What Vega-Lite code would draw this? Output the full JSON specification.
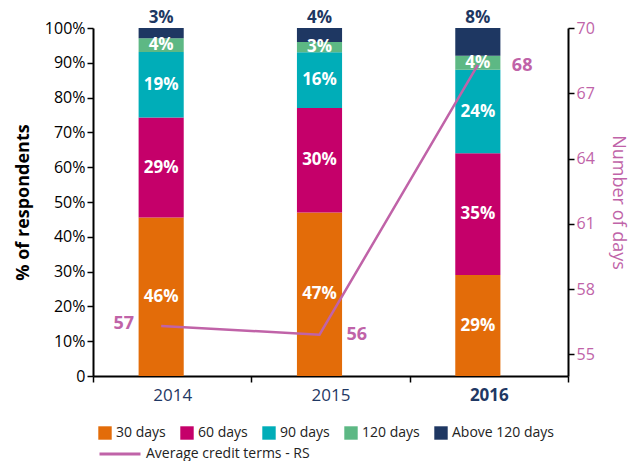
{
  "$schema": "https://vega.github.io/schema/vega-lite/v6.json",
  "width": 475,
  "height": 348,
  "autosize": {"type": "none"},
  "padding": {"left": 93, "top": 28, "right": 69, "bottom": 85},
  "background": "white",
  "config": {
    "font": "Open Sans",
    "view": {"stroke": null},
    "axis": {"grid": false, "domainColor": "black", "domainWidth": 2, "tickColor": "black", "tickWidth": 1.5},
    "legend": {"layout": {"bottom": {"anchor": "start", "direction": "vertical", "margin": 2}}}
  },
  "datasets": {
    "bars": [
      {"year": "2014", "cat": "30 days", "k": 1, "pct": 46, "label": "46%"},
      {"year": "2014", "cat": "60 days", "k": 2, "pct": 29, "label": "29%"},
      {"year": "2014", "cat": "90 days", "k": 3, "pct": 19, "label": "19%"},
      {"year": "2014", "cat": "120 days", "k": 4, "pct": 4, "label": "4%"},
      {"year": "2014", "cat": "Above 120 days", "k": 5, "pct": 3, "label": "3%"},
      {"year": "2015", "cat": "30 days", "k": 1, "pct": 47, "label": "47%"},
      {"year": "2015", "cat": "60 days", "k": 2, "pct": 30, "label": "30%"},
      {"year": "2015", "cat": "90 days", "k": 3, "pct": 16, "label": "16%"},
      {"year": "2015", "cat": "120 days", "k": 4, "pct": 3, "label": "3%"},
      {"year": "2015", "cat": "Above 120 days", "k": 5, "pct": 4, "label": "4%"},
      {"year": "2016", "cat": "30 days", "k": 1, "pct": 29, "label": "29%"},
      {"year": "2016", "cat": "60 days", "k": 2, "pct": 35, "label": "35%"},
      {"year": "2016", "cat": "90 days", "k": 3, "pct": 24, "label": "24%"},
      {"year": "2016", "cat": "120 days", "k": 4, "pct": 4, "label": "4%"},
      {"year": "2016", "cat": "Above 120 days", "k": 5, "pct": 8, "label": "8%"}
    ],
    "line": [
      {"year": "2014", "days": 56.3, "label": "57", "series": "Average credit terms - RS"},
      {"year": "2015", "days": 55.9, "label": "56", "series": "Average credit terms - RS"},
      {"year": "2016", "days": 68.3, "label": "68", "series": "Average credit terms - RS"}
    ]
  },
  "encoding": {
    "x": {
      "field": "year", "type": "nominal",
      "scale": {"paddingInner": 0, "paddingOuter": 0},
      "axis": {
        "title": null, "labelAngle": 0, "labelFontSize": 17, "labelColor": "#1F3864",
        "labelFontWeight": {"expr": "datum.value === '2016' ? 'bold' : 'normal'"},
        "tickBand": "extent", "tickSize": 6, "labelPadding": 5
      }
    }
  },
  "layer": [
    {
      "layer": [
        {
          "data": {"name": "bars"},
          "mark": {"type": "bar", "width": {"band": 0.285}, "xOffset": -11},
          "encoding": {
            "y": {
              "field": "pct", "type": "quantitative", "stack": "normalize",
              "scale": {"domain": [0, 1]},
              "axis": {
                "title": "% of respondents", "titleFontSize": 18, "titleFontWeight": "bold", "titleColor": "black", "titlePadding": 12,
                "values": [0, 0.1, 0.2, 0.3, 0.4, 0.5, 0.6, 0.7, 0.8, 0.9, 1],
                "labelOverlap": false,
                "labelExpr": "datum.value === 0 ? '0' : format(datum.value, '.0%')",
                "labelFontSize": 16, "labelColor": "black", "tickSize": 6
              }
            },
            "order": {"field": "k", "type": "quantitative", "sort": "ascending"},
            "color": {
              "field": "cat", "type": "nominal",
              "scale": {
                "domain": ["30 days", "60 days", "90 days", "120 days", "Above 120 days"],
                "range": ["#E36C09", "#C5006A", "#00ADB8", "#5DB884", "#1E3762"]
              },
              "legend": {
                "title": null, "orient": "bottom", "direction": "horizontal", "symbolType": "square",
                "symbolSize": 180, "symbolStrokeWidth": 0, "labelFontSize": 14, "labelColor": "#222",
                "columnPadding": 9, "symbolOpacity": 1, "padding": 0, "offset": 23, "symbolOffset": 5
              }
            }
          }
        },
        {
          "data": {"name": "bars"},
          "mark": {"type": "text", "xOffset": -11, "fontSize": 17, "fontWeight": "bold", "fill": "white", "baseline": "middle"},
          "encoding": {
            "y": {"field": "pct", "type": "quantitative", "stack": "normalize", "bandPosition": 0.5,
              "axis": {
                "title": "% of respondents", "titleFontSize": 18, "titleFontWeight": "bold", "titleColor": "black", "titlePadding": 12,
                "values": [0, 0.1, 0.2, 0.3, 0.4, 0.5, 0.6, 0.7, 0.8, 0.9, 1],
                "labelOverlap": false,
                "labelExpr": "datum.value === 0 ? '0' : format(datum.value, '.0%')",
                "labelFontSize": 16, "labelColor": "black", "tickSize": 6
              }},
            "order": {"field": "k", "type": "quantitative", "sort": "ascending"},
            "detail": {"field": "cat"},
            "text": {"condition": {"test": "datum.cat !== 'Above 120 days'", "field": "label"}, "value": ""}
          }
        },
        {
          "data": {"name": "bars"},
          "mark": {"type": "text", "xOffset": -11, "dy": -10, "fontSize": 17, "fontWeight": "bold", "fill": "#1E3762", "baseline": "middle"},
          "encoding": {
            "y": {"field": "pct", "type": "quantitative", "stack": "normalize",
              "axis": {
                "title": "% of respondents", "titleFontSize": 18, "titleFontWeight": "bold", "titleColor": "black", "titlePadding": 12,
                "values": [0, 0.1, 0.2, 0.3, 0.4, 0.5, 0.6, 0.7, 0.8, 0.9, 1],
                "labelOverlap": false,
                "labelExpr": "datum.value === 0 ? '0' : format(datum.value, '.0%')",
                "labelFontSize": 16, "labelColor": "black", "tickSize": 6
              }},
            "order": {"field": "k", "type": "quantitative", "sort": "ascending"},
            "detail": {"field": "cat"},
            "text": {"condition": {"test": "datum.cat === 'Above 120 days'", "field": "label"}, "value": ""}
          }
        }
      ]
    },
    {
      "data": {"name": "line"},
      "layer": [
        {
          "mark": {"type": "line", "xOffset": -11, "strokeWidth": 2.5},
          "encoding": {
            "y": {
              "field": "days", "type": "quantitative",
              "scale": {"domain": [55, 70], "zero": false},
              "axis": {
                "orient": "right", "title": "Number of days", "titleAngle": 90, "titleFontSize": 18, "titleFontWeight": "normal",
                "titleColor": "#C063A8", "titlePadding": 14, "values": [55, 58, 61, 64, 67, 70],
                "labelFontSize": 16, "labelColor": "#C063A8", "tickSize": 6
              }
            },
            "stroke": {
              "field": "series", "type": "nominal",
              "scale": {"range": ["#C063A8"]},
              "legend": {"title": null, "orient": "bottom", "symbolType": "M-2,0H2", "symbolSize": 420, "symbolStrokeWidth": 3,
                "symbolFillColor": "transparent", "symbolOffset": 15,
                "labelFontSize": 14, "labelColor": "#222", "labelLimit": 400, "labelOffset": 14, "padding": 0, "offset": 23}
            }
          }
        },
        {
          "transform": [{"filter": "datum.year === '2014'"}],
          "mark": {"type": "text", "xOffset": -11, "dx": -27, "dy": -2, "align": "right", "baseline": "middle", "fontSize": 18, "fontWeight": "bold", "fill": "#C063A8"},
          "encoding": {"y": {"field": "days", "type": "quantitative"}, "text": {"field": "label"}}
        },
        {
          "transform": [{"filter": "datum.year === '2015'"}],
          "mark": {"type": "text", "xOffset": -11, "dx": 27, "dy": 0, "align": "left", "baseline": "middle", "fontSize": 18, "fontWeight": "bold", "fill": "#C063A8"},
          "encoding": {"y": {"field": "days", "type": "quantitative"}, "text": {"field": "label"}}
        },
        {
          "transform": [{"filter": "datum.year === '2016'"}],
          "mark": {"type": "text", "xOffset": -11, "dx": 34, "dy": 1, "align": "left", "baseline": "middle", "fontSize": 18, "fontWeight": "bold", "fill": "#C063A8"},
          "encoding": {"y": {"field": "days", "type": "quantitative"}, "text": {"field": "label"}}
        }
      ]
    }
  ],
  "resolve": {"scale": {"y": "independent"}}
}
